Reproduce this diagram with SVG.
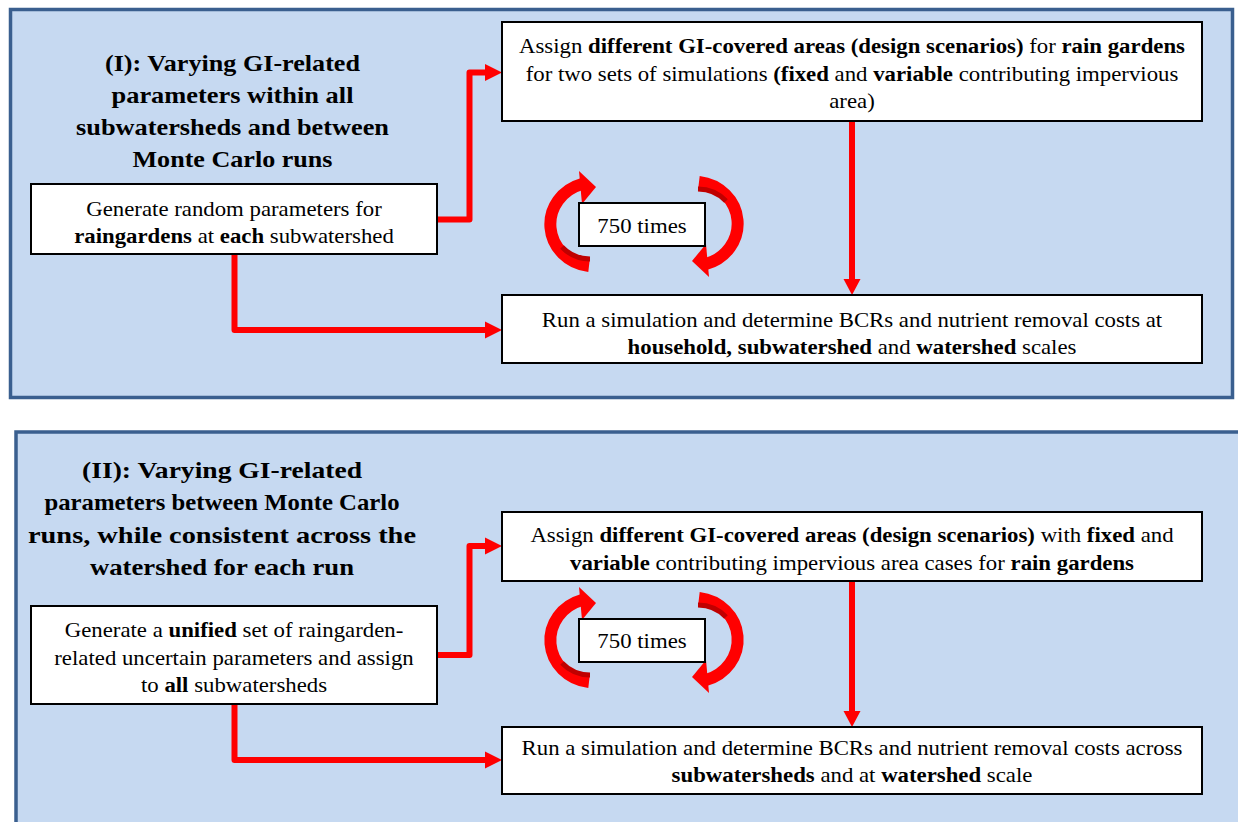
<svg xmlns="http://www.w3.org/2000/svg" width="1238" height="822" viewBox="0 0 1238 822">
  <style>
    .panel { fill: #c6d9f1; stroke: #3a5f8f; stroke-width: 3.5; }
    .box { fill: #ffffff; stroke: #000000; stroke-width: 2; }
    .t { font-family: "Liberation Serif", "Times New Roman", serif; font-size: 20px; fill: #000; text-anchor: middle; }
    .title { font-family: "Liberation Serif", "Times New Roman", serif; font-size: 23px; font-weight: bold; fill: #000; text-anchor: middle; }
    .b { font-weight: bold; }
    .wire { fill: none; stroke: #ff0000; stroke-width: 6; stroke-linejoin: round; }
    .head { fill: #ff0000; }
    .loop { fill: none; stroke: #ff0000; stroke-width: 12; }
    .shade { fill: none; stroke: #c00000; stroke-width: 5; }
  </style>
  <defs>
    <!-- one half of the circular "repeat" arrow pair -->
    <g id="halfloop">
      <path class="loop" d="M 589 266 A 44 42 0 0 1 582 184"/>
      <path class="shade" d="M 590 259 A 38 36 0 0 1 562 247"/>
      <polygon class="head" points="596,187 579,171 582,204"/>
    </g>
    <g id="loops">
      <use href="#halfloop"/>
      <use href="#halfloop" transform="rotate(180 644 224)"/>
    </g>
  </defs>

  <!-- Panel I -->
  <rect class="panel" x="10.5" y="9.5" width="1222" height="388"/>
  <!-- Panel II (runs past the right and bottom edges) -->
  <rect class="panel" x="16" y="432" width="1240" height="410"/>

  <g id="title-1">
    <text class="title" x="232.5" y="71" textLength="255" lengthAdjust="spacingAndGlyphs">(I): Varying GI-related</text>
    <text class="title" x="232.5" y="103" textLength="242" lengthAdjust="spacingAndGlyphs">parameters within all</text>
    <text class="title" x="232.5" y="135" textLength="313" lengthAdjust="spacingAndGlyphs">subwatersheds and between</text>
    <text class="title" x="232.5" y="167" textLength="200" lengthAdjust="spacingAndGlyphs">Monte Carlo runs</text>
  </g>

  <g id="title-2">
    <text class="title" x="222" y="478" textLength="280" lengthAdjust="spacingAndGlyphs">(II): Varying GI-related</text>
    <text class="title" x="222" y="510" textLength="355" lengthAdjust="spacingAndGlyphs">parameters between Monte Carlo</text>
    <text class="title" x="222" y="543" textLength="388" lengthAdjust="spacingAndGlyphs">runs, while consistent across the</text>
    <text class="title" x="222" y="575" textLength="264" lengthAdjust="spacingAndGlyphs">watershed for each run</text>
  </g>

  <!-- connectors -->
  <g id="connectors">
    <path class="wire" d="M 437 219.5 H 469.5 V 72.5 H 487"/>
    <polygon class="head" points="485,64 502,72.5 485,81"/>
    <path class="wire" d="M 234.5 254 V 330 H 487"/>
    <polygon class="head" points="485,321.5 502,330 485,338.5"/>
    <path class="wire" d="M 852 121 V 281"/>
    <polygon class="head" points="843.5,279 852,295 860.5,279"/>

    <path class="wire" d="M 437 655 H 469.5 V 546 H 487"/>
    <polygon class="head" points="485,537.5 502,546 485,554.5"/>
    <path class="wire" d="M 234.5 704 V 760 H 487"/>
    <polygon class="head" points="485,751.5 502,760 485,768.5"/>
    <path class="wire" d="M 852 581 V 713"/>
    <polygon class="head" points="843.5,711 852,727 860.5,711"/>

    <use href="#loops"/>
    <use href="#loops" transform="translate(0 416)"/>
  </g>

  <!-- body text is set at 20px and widened 1.14x horizontally -->
  <g id="gen-1">
    <rect class="box" x="31" y="184" width="406" height="70"/>
    <text class="t" transform="matrix(1.14 0 0 1 234 216)">Generate random parameters for</text>
    <text class="t" transform="matrix(1.14 0 0 1 234 243)"><tspan class="b">raingardens</tspan> at <tspan class="b">each</tspan> subwatershed</text>
  </g>

  <g id="assign-1">
    <rect class="box" x="502" y="22" width="700" height="99"/>
    <text class="t" transform="matrix(1.14 0 0 1 852 53)">Assign <tspan class="b">different GI-covered areas (design scenarios)</tspan> for <tspan class="b">rain gardens</tspan></text>
    <text class="t" transform="matrix(1.14 0 0 1 852 81)">for two sets of simulations <tspan class="b">(fixed</tspan> and <tspan class="b">variable</tspan> contributing impervious</text>
    <text class="t" transform="matrix(1.14 0 0 1 852 108)">area)</text>
  </g>

  <g id="run-1">
    <rect class="box" x="502" y="295" width="700" height="68"/>
    <text class="t" transform="matrix(1.14 0 0 1 852 327)">Run a simulation and determine BCRs and nutrient removal costs at</text>
    <text class="t" transform="matrix(1.14 0 0 1 852 354)"><tspan class="b">household, subwatershed</tspan> and <tspan class="b">watershed</tspan> scales</text>
  </g>

  <g id="times-1">
    <rect class="box" x="579" y="203" width="126" height="43"/>
    <text class="t" transform="matrix(1.14 0 0 1 642 233)">750 times</text>
  </g>

  <g id="gen-2">
    <rect class="box" x="31" y="606" width="406" height="98"/>
    <text class="t" transform="matrix(1.14 0 0 1 234 637)">Generate a <tspan class="b">unified</tspan> set of raingarden-</text>
    <text class="t" transform="matrix(1.14 0 0 1 234 665)">related uncertain parameters and assign</text>
    <text class="t" transform="matrix(1.14 0 0 1 234 692)">to <tspan class="b">all</tspan> subwatersheds</text>
  </g>

  <g id="assign-2">
    <rect class="box" x="502" y="512" width="700" height="69"/>
    <text class="t" transform="matrix(1.14 0 0 1 852 542)">Assign <tspan class="b">different GI-covered areas (design scenarios)</tspan> with <tspan class="b">fixed</tspan> and</text>
    <text class="t" transform="matrix(1.14 0 0 1 852 570)"><tspan class="b">variable</tspan> contributing impervious area cases for <tspan class="b">rain gardens</tspan></text>
  </g>

  <g id="run-2">
    <rect class="box" x="502" y="727" width="700" height="67"/>
    <text class="t" transform="matrix(1.14 0 0 1 852 755)">Run a simulation and determine BCRs and nutrient removal costs across</text>
    <text class="t" transform="matrix(1.14 0 0 1 852 782)"><tspan class="b">subwatersheds</tspan> and at <tspan class="b">watershed</tspan> scale</text>
  </g>

  <g id="times-2">
    <rect class="box" x="579" y="619" width="126" height="43"/>
    <text class="t" transform="matrix(1.14 0 0 1 642 648)">750 times</text>
  </g>
</svg>
